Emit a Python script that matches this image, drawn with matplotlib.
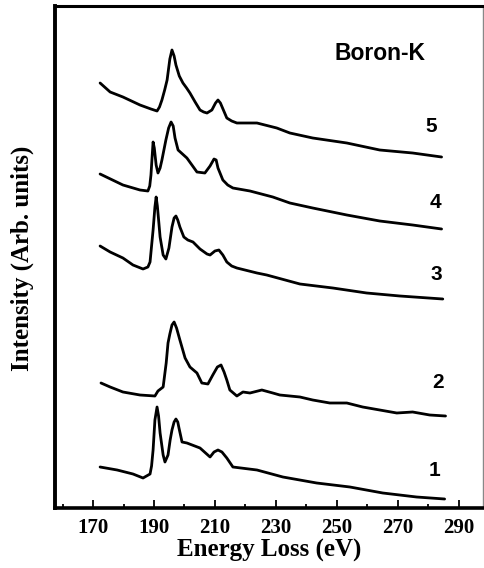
import matplotlib
matplotlib.use("Agg")
import matplotlib.pyplot as plt
from matplotlib.ticker import MultipleLocator

# ---- data (energy in eV, intensity in arbitrary stacked units) ----
e5 = [172.3,175.6,179.8,185.4,189.0,191.0,191.8,192.6,193.5,194.3,195.2,195.9,196.6,197.2,198.3,199.5,200.7,201.8,203.5,205.1,206.3,207.4,209.0,210.2,211.0,211.8,212.5,213.9,215.5,217.2,223.8,230.3,234.6,242.1,253.3,264.1,274.9,284.4]
i5 = [425,416,411,403,399,397,401,408,418,428,449,458,452,443,432,425,420,415,406,398,396,395,398,405,408,405,400,390,387,385,385,380,375,370,365,358,355,351]

e4 = [172.3,179.8,185.4,188.0,188.6,189.0,189.4,189.7,190.1,190.7,191.3,192.0,192.6,193.9,194.8,195.6,196.3,196.9,197.9,200.8,204.1,206.7,208.4,209.7,210.4,211.0,212.6,214.2,215.9,221.5,229.0,234.6,242.1,253.3,264.1,274.9,284.4]
i4 = [334,323,318,317,322,333,352,366,360,343,335,340,348,368,380,386,382,370,358,350,336,335,342,349,348,340,328,323,320,317,311,305,300,293,287,283,279]

e3 = [172.3,175.6,179.8,183.1,186.4,188.0,188.7,189.2,189.7,190.3,190.7,191.1,191.6,192.0,193.0,193.9,194.9,195.9,196.6,197.2,197.8,198.5,199.8,201.1,202.8,205.1,207.4,208.4,210.0,211.3,212.6,213.9,215.5,217.2,223.8,227.0,237.9,248.7,259.8,270.7,284.8]
i3 = [262,256,250,243,239,241,246,262,278,301,311,302,285,271,253,249,260,281,290,292,288,281,271,268,266,259,254,253,257,258,253,246,242,240,235,233,224,220,215,212,209]

e2 = [172.6,175.6,179.8,185.4,190.3,191.3,193.0,194.0,194.6,195.2,195.9,196.6,197.4,198.5,200.2,201.8,204.1,205.7,207.7,209.3,210.8,212.0,213.0,213.9,214.9,217.2,219.2,221.5,225.4,229.0,231.3,237.9,242.1,247.7,253.3,258.5,264.1,269.7,274.9,280.5,285.7]
i2 = [125,121,116,113,112,117,121,145,165,174,183,186,180,168,150,141,135,125,124,133,141,143,136,128,118,112,116,115,118,115,113,111,108,105,105,101,98,95,96,93,92]

e1 = [172.3,177.9,183.1,186.4,188.7,189.2,189.7,190.3,191.0,191.5,192.0,193.0,193.6,194.6,195.3,195.9,196.6,197.2,197.8,198.2,199.2,200.8,205.1,208.4,209.7,211.0,212.3,213.9,215.9,223.8,232.3,243.4,254.3,265.1,276.2,285.4]
i1 = [41,38,34,30,34,42,58,88,101,92,75,53,46,53,68,78,86,89,86,80,66,65,60,51,56,58,56,50,41,38,31,25,21,15,11,9]

curve_labels = ["1", "2", "3", "4", "5"]
xticks = [170, 190, 210, 230, 250, 270, 290]

fig = plt.figure(figsize=(4.84, 5.68), dpi=100)
ax = fig.add_axes([55/484, 60/568, 428/484, 502/568])

for e, i in [(e1, i1), (e2, i2), (e3, i3), (e4, i4), (e5, i5)]:
    ax.plot(e, i, color="black", lw=2.0, solid_joinstyle="round",
            solid_capstyle="round")

ax.set_xlim(157.5, 298)
ax.set_ylim(0, 502)

label_pos = [(282.1, 38), (283.1, 125), (282.8, 233), (282.5, 306), (281.1, 381)]
for lab, (x, y) in zip(curve_labels, label_pos):
    ax.text(x, y, lab, ha="center", va="center", fontsize=15,
            fontweight="heavy", family="Liberation Sans")
ax.text(264.1, 455, "Boron-K", ha="center", va="center", fontsize=16.5,
        fontweight="heavy", family="Liberation Sans")

ax.set_xticks(xticks)
ax.xaxis.set_minor_locator(MultipleLocator(10))
ax.tick_params(axis="x", which="major", direction="in", length=6, width=1.3,
               pad=7, labelsize=15)
ax.tick_params(axis="x", which="minor", direction="in", length=3, width=1.3)
ax.set_yticks([])
for lab in ax.get_xticklabels():
    lab.set_fontfamily("Liberation Serif")
    lab.set_fontweight("bold")

ax.spines["left"].set_linewidth(2.8)
ax.spines["bottom"].set_linewidth(2.6)
ax.spines["top"].set_linewidth(2.2)
ax.spines["right"].set_linewidth(1.0)
ax.spines["right"].set_color("#888888")

ax.set_xlabel("Energy Loss (eV)", fontsize=18, fontweight="bold",
              family="Liberation Serif", labelpad=1)
fig.text(22/484, 1 - 258/568, "Intensity (Arb. units)", rotation=90,
         ha="center", va="center", fontsize=18, fontweight="bold",
         family="Liberation Serif")

fig.savefig("out.png", dpi=100)
